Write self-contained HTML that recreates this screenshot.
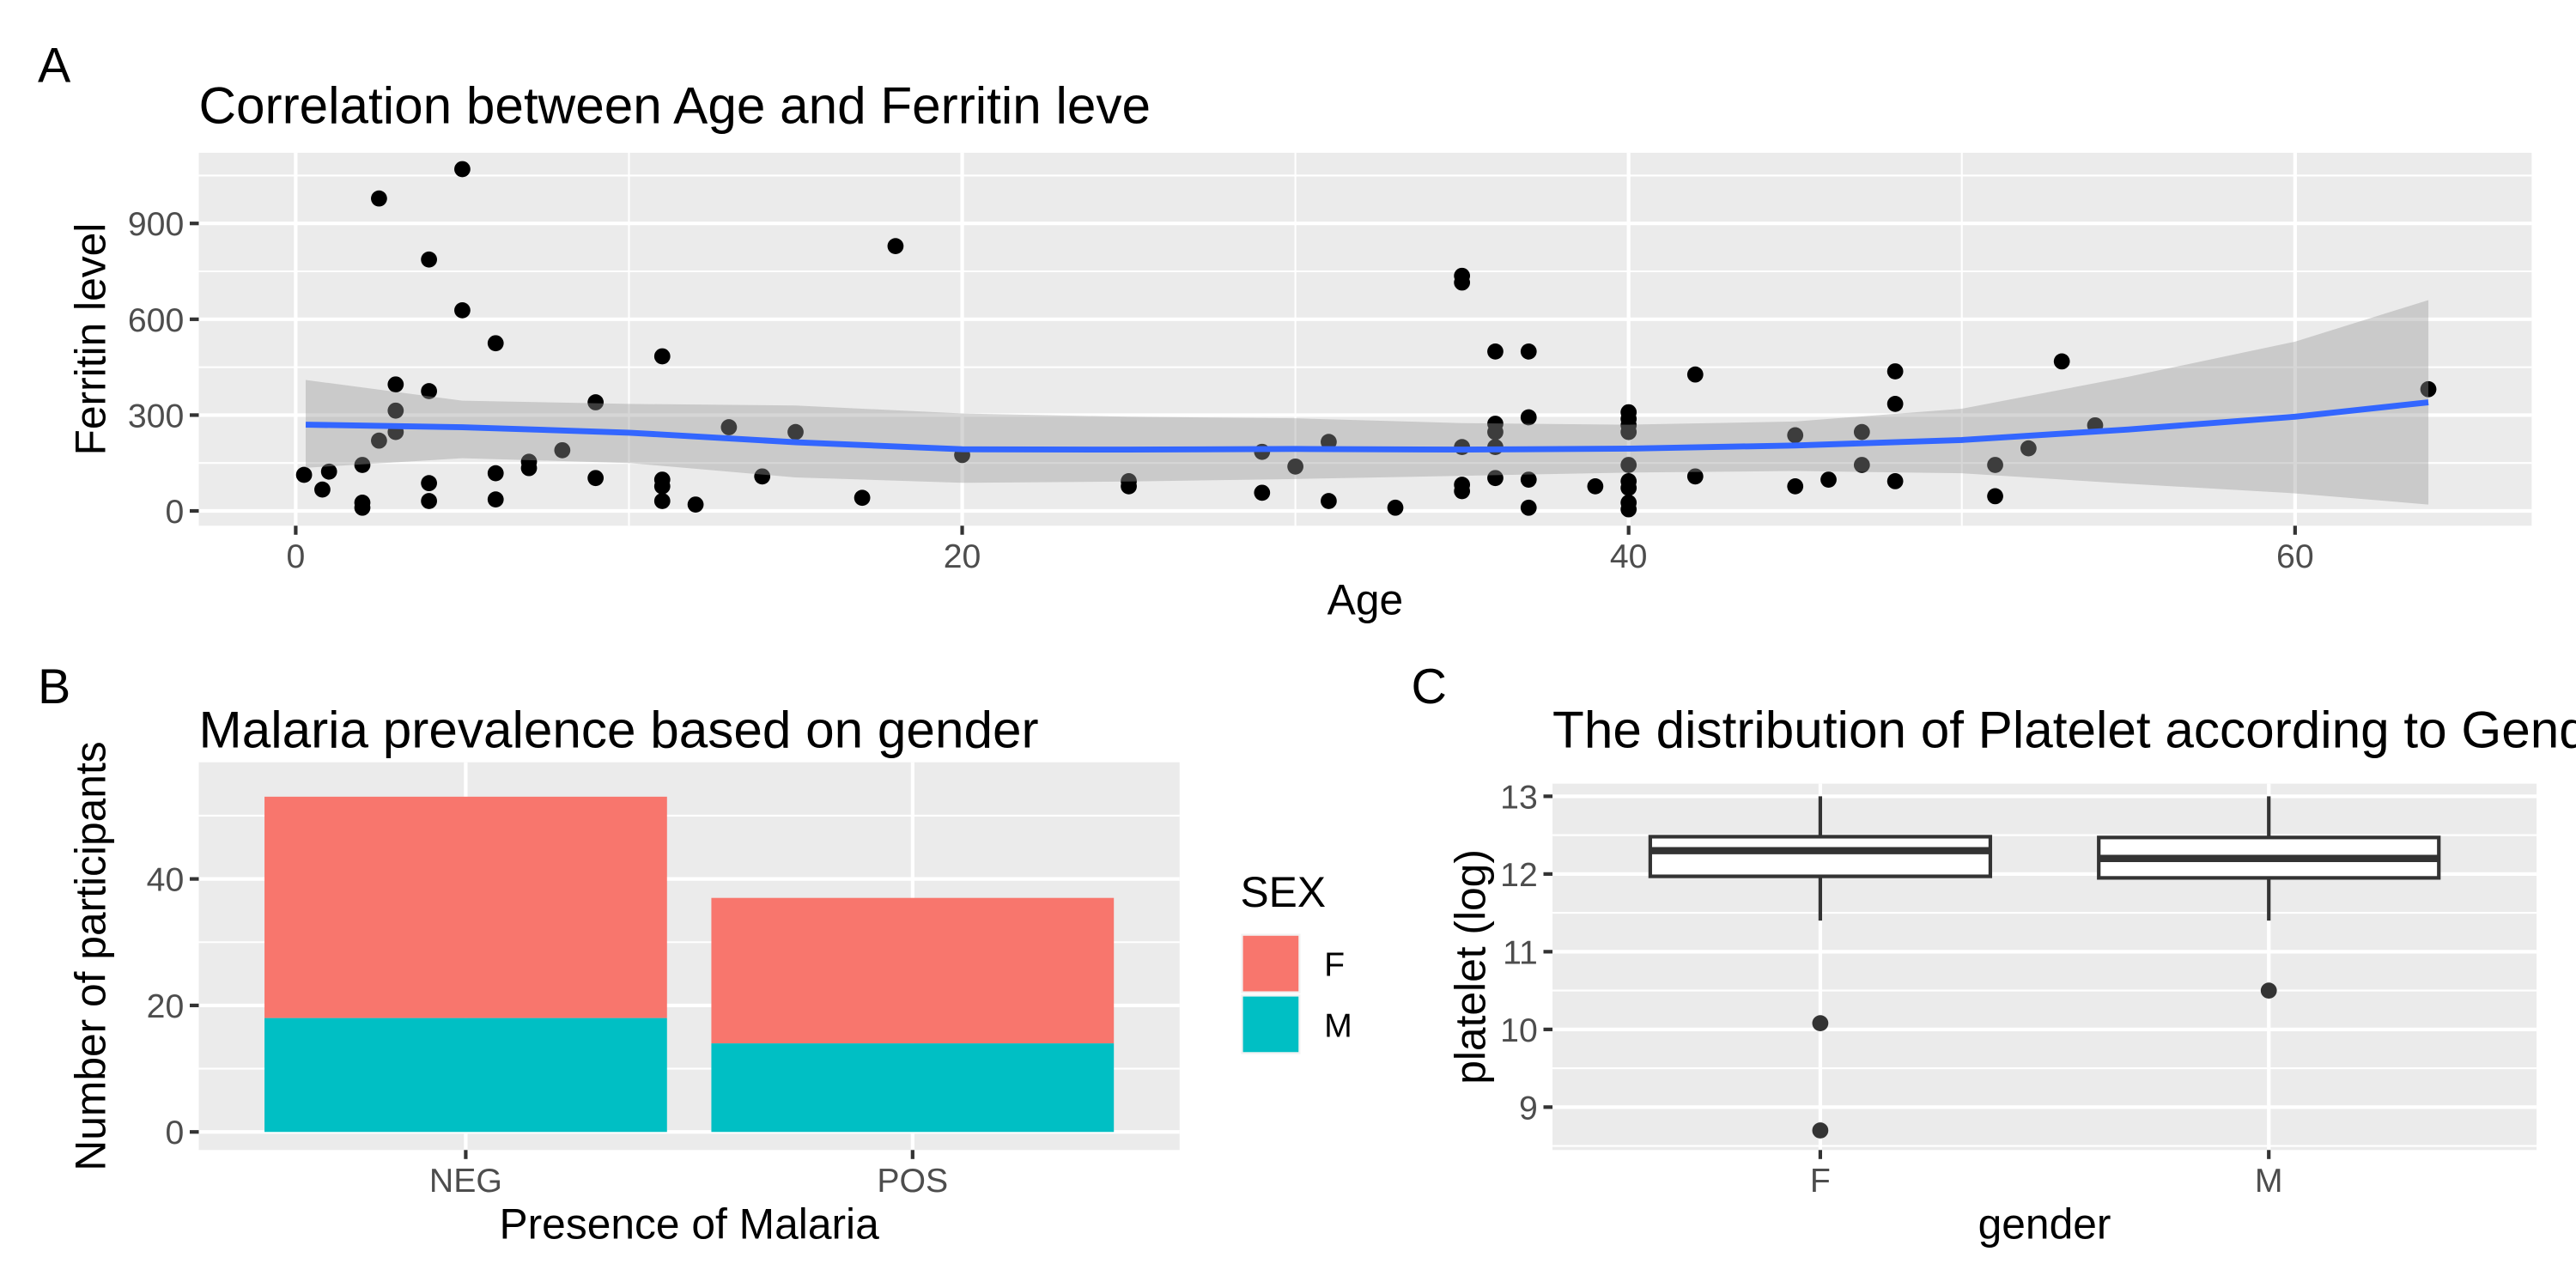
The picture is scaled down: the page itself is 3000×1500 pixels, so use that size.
<!DOCTYPE html>
<html><head><meta charset="utf-8"><style>
html,body{margin:0;padding:0;background:#fff}
svg{display:block}
text{font-family:"Liberation Sans",sans-serif}
</style></head><body>
<svg id="fig" width="3000" height="1500" viewBox="0 0 1568 784" xmlns="http://www.w3.org/2000/svg">
<g id="A"></g>
<g id="B"></g>
<g id="C"></g>
</svg>
<script>
// Panel A data
const ages = [0.25,0.8,1,2,2,2,2.5,2.5,3,3,3,4,4,4,4,5,5,6,6,6,7,7,8,9,9,11,11,11,11,12,13,14,15,17,18,20,25,25,29,29,30,31,31,33,35,35,35,35,35,36,36,36,36,36,37,37,37,37,39,40,40,40,40,40,40,40,40,40,42,42,45,45,46,47,47,48,48,48,51,51,52,53,54,64];
const ferritin = [113,67,123,144,26,10,220,978,396,314,247,787,375,87,31,1070,628,525,118,36,154,134,190,340,103,484,98,77,31,20,262,108,247,41,829,175,93,77,185,57,139,216,31,10,736,715,200,82,62,499,273,247,200,103,499,293,98,10,77,309,288,268,247,144,93,72,26,5,427,108,237,77,98,247,144,437,335,93,144,46,196,468,268,381];
const smoothX = [0.3,5,10,15,20,25,30,35,40,45,50,55,60,64];
const smoothY = [270,262,245,215,193,192,194,192,195,205,222,255,295,340];
const ribbonLo = [135,165,150,105,88,92,100,110,120,125,118,85,55,20];
const ribbonHi = [410,345,335,330,305,295,290,275,270,280,320,420,530,660];
const xTicksA = [0,20,40,60];
const yTicksA = [0,300,600,900];
// Panel B data
const malariaCats = ['NEG','POS'];
const countF = [35,23];
const countM = [18,14];
const yTicksB = [0,20,40];
// Panel C data
const genders = ['F','M'];
const q1 = [11.97,11.95];
const med = [12.3,12.2];
const q3 = [12.48,12.47];
const whiskLo = [11.4,11.4];
const whiskHi = [13.0,13.0];
const outG = ['F','F','M'];
const outV = [10.08,8.7,10.5];
const yTicksC = [9,10,11,12,13];

const NS='http://www.w3.org/2000/svg';
const TT=31.5, AT=26, TK=20.5, TKC='#4D4D4D', MAJ=2.2, MIN=1.1;
function mk(parent,tag,attrs,txt){const e=document.createElementNS(NS,tag);for(const k in attrs)e.setAttribute(k,attrs[k]);if(txt!==undefined)e.textContent=txt;parent.appendChild(e);return e;}

// ---------- Panel A ----------
(function(){
const g=document.getElementById('A');
const L=121,R=1541,T=93,B=320;
const xs=v=>180+v*(1397-180)/60;
const ys=v=>311-v*(311-136)/900;
let e=mk(g,'text',{x:23,y:50,'font-size':30});
e.textContent='A';


e=mk(g,'text',{x:121,y:75,'font-size':TT},'Correlation between Age and Ferritin leve');


e=mk(g,'rect',{x:L,y:T,width:R-L,height:B-T,fill:'#EBEBEB'});


[10,30,50].forEach(v=>mk(g,'line',{x1:xs(v),x2:xs(v),y1:T,y2:B,stroke:'#fff','stroke-width':MIN}));
[150,450,750,1050].forEach(v=>mk(g,'line',{x1:L,x2:R,y1:ys(v),y2:ys(v),stroke:'#fff','stroke-width':MIN}));
xTicksA.forEach(v=>{mk(g,'line',{x1:xs(v),x2:xs(v),y1:T,y2:B,stroke:'#fff','stroke-width':MAJ});
 mk(g,'line',{x1:xs(v),x2:xs(v),y1:B,y2:B+5.5,stroke:'#333','stroke-width':MAJ});
 e=mk(g,'text',{x:xs(v),y:B+25.5,'font-size':TK,fill:TKC,'text-anchor':'middle'},String(v));
 
 });
yTicksA.forEach(v=>{mk(g,'line',{x1:L,x2:R,y1:ys(v),y2:ys(v),stroke:'#fff','stroke-width':MAJ});
 mk(g,'line',{x1:L-5.5,x2:L,y1:ys(v),y2:ys(v),stroke:'#333','stroke-width':MAJ});
 e=mk(g,'text',{x:L-9,y:ys(v)+7.3,'font-size':TK,fill:TKC,'text-anchor':'end'},String(v));
 
 });
let d='M'+smoothX.map((x,i)=>xs(x)+','+ys(ribbonHi[i])).join('L');
for(let i=smoothX.length-1;i>=0;i--)d+='L'+xs(smoothX[i])+','+ys(ribbonLo[i]);
ages.forEach((a,i)=>{e=mk(g,'circle',{cx:xs(a),cy:ys(ferritin[i]),r:4.9,fill:'#000'});
 
 });
e=mk(g,'path',{d:d+'Z',fill:'#999','fill-opacity':0.4});


e=mk(g,'polyline',{points:smoothX.map((x,i)=>xs(x)+','+ys(smoothY[i])).join(' '),fill:'none',stroke:'#3366FF','stroke-width':3.6});


e=mk(g,'text',{x:(L+R)/2,y:374,'font-size':AT,'text-anchor':'middle'},'Age');


e=mk(g,'text',{x:0,y:0,'font-size':AT,'text-anchor':'middle',transform:'translate(64,'+((T+B)/2)+') rotate(-90)'},'Ferritin level');


})();

// ---------- Panel B ----------
(function(){
const g=document.getElementById('B');
const L=121,R=718,T=464,B=700;
const ys=v=>689-v*(689-535)/40;
const centers=[283.5,555.5], bw=245;
let e=mk(g,'text',{x:23,y:428,'font-size':30},'B');


e=mk(g,'text',{x:121,y:455,'font-size':TT},'Malaria prevalence based on gender');


e=mk(g,'rect',{x:L,y:T,width:R-L,height:B-T,fill:'#EBEBEB'});


[10,30,50].forEach(v=>mk(g,'line',{x1:L,x2:R,y1:ys(v),y2:ys(v),stroke:'#fff','stroke-width':MIN}));
yTicksB.forEach(v=>{mk(g,'line',{x1:L,x2:R,y1:ys(v),y2:ys(v),stroke:'#fff','stroke-width':MAJ});
 mk(g,'line',{x1:L-5.5,x2:L,y1:ys(v),y2:ys(v),stroke:'#333','stroke-width':MAJ});
 e=mk(g,'text',{x:L-9,y:ys(v)+7.3,'font-size':TK,fill:TKC,'text-anchor':'end'},String(v));
 
 });
malariaCats.forEach((c,i)=>{const cx=centers[i];
 mk(g,'line',{x1:cx,x2:cx,y1:T,y2:B,stroke:'#fff','stroke-width':MAJ});
 e=mk(g,'rect',{x:cx-bw/2,y:ys(countM[i]+countF[i]),width:bw,height:ys(countM[i])-ys(countM[i]+countF[i]),fill:'#F8766D'});
 
 
 e=mk(g,'rect',{x:cx-bw/2,y:ys(countM[i]),width:bw,height:ys(0)-ys(countM[i]),fill:'#00BFC4'});
 
 
 mk(g,'line',{x1:cx,x2:cx,y1:B,y2:B+5.5,stroke:'#333','stroke-width':MAJ});
 e=mk(g,'text',{x:cx,y:B+25.5,'font-size':TK,fill:TKC,'text-anchor':'middle'},c);
 
 });
e=mk(g,'text',{x:(L+R)/2,y:754,'font-size':AT,'text-anchor':'middle'},'Presence of Malaria');


e=mk(g,'text',{x:0,y:0,'font-size':AT,'text-anchor':'middle',transform:'translate(64,'+((T+B)/2)+') rotate(-90)'},'Number of participants');


e=mk(g,'text',{x:755,y:552,'font-size':AT},'SEX');


[['F','#F8766D',569],['M','#00BFC4',606]].forEach(([k,col,y])=>{
 e=mk(g,'rect',{x:756,y:y,width:35,height:35,fill:col,stroke:'#F2F2F2','stroke-width':1.2});
 
 
 e=mk(g,'text',{x:806,y:y+25,'font-size':TK},k);
 
 });
})();

// ---------- Panel C ----------
(function(){
const g=document.getElementById('C');
const L=945,R=1544,T=477,B=700;
const ys=v=>532-(v-12)*47.3;
const xc={F:1108,M:1381}, bw=207;
let e=mk(g,'text',{x:859,y:428,'font-size':30},'C');


e=mk(g,'text',{x:945,y:455,'font-size':TT},'The distribution of Platelet according to Gend');


e=mk(g,'rect',{x:L,y:T,width:R-L,height:B-T,fill:'#EBEBEB'});


[8.5,9.5,10.5,11.5,12.5].forEach(v=>mk(g,'line',{x1:L,x2:R,y1:ys(v),y2:ys(v),stroke:'#fff','stroke-width':MIN}));
yTicksC.forEach(v=>{mk(g,'line',{x1:L,x2:R,y1:ys(v),y2:ys(v),stroke:'#fff','stroke-width':MAJ});
 mk(g,'line',{x1:L-5.5,x2:L,y1:ys(v),y2:ys(v),stroke:'#333','stroke-width':MAJ});
 e=mk(g,'text',{x:L-9,y:ys(v)+7.3,'font-size':TK,fill:TKC,'text-anchor':'end'},String(v));
 
 });
genders.forEach((gn,i)=>{const cx=xc[gn];
 mk(g,'line',{x1:cx,x2:cx,y1:T,y2:B,stroke:'#fff','stroke-width':MAJ});
 e=mk(g,'line',{x1:cx,x2:cx,y1:ys(whiskHi[i]),y2:ys(q3[i]),stroke:'#333','stroke-width':MAJ});
 
 
 e=mk(g,'line',{x1:cx,x2:cx,y1:ys(q1[i]),y2:ys(whiskLo[i]),stroke:'#333','stroke-width':MAJ});
 
 
 e=mk(g,'rect',{x:cx-bw/2,y:ys(q3[i]),width:bw,height:ys(q1[i])-ys(q3[i]),fill:'#fff',stroke:'#333','stroke-width':MAJ});
 
 
 e=mk(g,'line',{x1:cx-bw/2,x2:cx+bw/2,y1:ys(med[i]),y2:ys(med[i]),stroke:'#333','stroke-width':4.4});
 
 
 mk(g,'line',{x1:cx,x2:cx,y1:B,y2:B+5.5,stroke:'#333','stroke-width':MAJ});
 e=mk(g,'text',{x:cx,y:B+25.5,'font-size':TK,fill:TKC,'text-anchor':'middle'},gn);
 
 });
outG.forEach((gn,i)=>{e=mk(g,'circle',{cx:xc[gn],cy:ys(outV[i]),r:4.9,fill:'#333'});
 
 });
e=mk(g,'text',{x:(L+R)/2,y:754,'font-size':AT,'text-anchor':'middle'},'gender');


e=mk(g,'text',{x:0,y:0,'font-size':AT,'text-anchor':'middle',transform:'translate(904,'+((T+B)/2)+') rotate(-90)'},'platelet (log)');


})();
</script>
</body></html>
